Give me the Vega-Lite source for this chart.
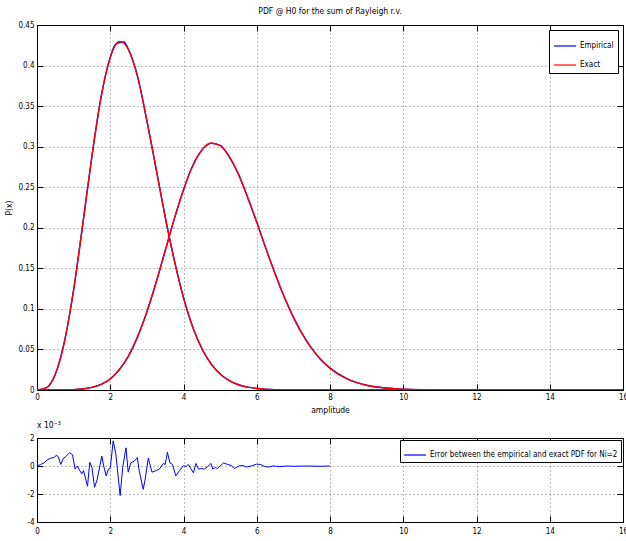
{
  "$schema": "https://vega.github.io/schema/vega-lite/v6.json",
  "background": "white",
  "padding": {"left": 4, "top": 6, "right": 0, "bottom": 0},
  "spacing": 6,
  "config": {
    "font": "DejaVu Sans Condensed, Liberation Sans, sans-serif",
    "view": {"stroke": "black", "strokeWidth": 1},
    "axis": {
      "domainColor": "black", "domainWidth": 1,
      "tickColor": "black", "tickSize": -6, "tickWidth": 1,
      "labelPadding": 9, "labelColor": "black", "labelFontSize": 8,
      "titleColor": "black", "titleFontSize": 8.5, "titleFontWeight": "normal",
      "gridColor": "#555555", "gridDash": [1, 3], "gridWidth": 0.8, "gridOpacity": 1
    },
    "title": {"fontSize": 8.5, "fontWeight": "normal", "color": "black"},
    "legend": {
      "strokeColor": "black", "fillColor": "white", "padding": 4,
      "symbolType": "stroke", "symbolSize": 480, "symbolStrokeWidth": 1.2,
      "labelFontSize": 8, "labelColor": "black", "rowPadding": 3, "labelOffset": 3, "labelLimit": 0
    }
  },
  "datasets": {
    "pdf": [
      {"x": 0, "p": 0, "series": "Empirical", "curve": "Ni=2"},
      {"x": 0.25, "p": 0.0027, "series": "Empirical", "curve": "Ni=2"},
      {"x": 0.5, "p": 0.0195, "series": "Empirical", "curve": "Ni=2"},
      {"x": 0.75, "p": 0.0600, "series": "Empirical", "curve": "Ni=2"},
      {"x": 1, "p": 0.1234, "series": "Empirical", "curve": "Ni=2"},
      {"x": 1.25, "p": 0.2046, "series": "Empirical", "curve": "Ni=2"},
      {"x": 1.5, "p": 0.2882, "series": "Empirical", "curve": "Ni=2"},
      {"x": 1.75, "p": 0.3616, "series": "Empirical", "curve": "Ni=2"},
      {"x": 2, "p": 0.4100, "series": "Empirical", "curve": "Ni=2"},
      {"x": 2.125, "p": 0.4250, "series": "Empirical", "curve": "Ni=2"},
      {"x": 2.25, "p": 0.4282, "series": "Empirical", "curve": "Ni=2"},
      {"x": 2.375, "p": 0.4290, "series": "Empirical", "curve": "Ni=2"},
      {"x": 2.5, "p": 0.4196, "series": "Empirical", "curve": "Ni=2"},
      {"x": 2.75, "p": 0.3861, "series": "Empirical", "curve": "Ni=2"},
      {"x": 3, "p": 0.3318, "series": "Empirical", "curve": "Ni=2"},
      {"x": 3.25, "p": 0.2733, "series": "Empirical", "curve": "Ni=2"},
      {"x": 3.5, "p": 0.2136, "series": "Empirical", "curve": "Ni=2"},
      {"x": 3.75, "p": 0.1601, "series": "Empirical", "curve": "Ni=2"},
      {"x": 4, "p": 0.1137, "series": "Empirical", "curve": "Ni=2"},
      {"x": 4.25, "p": 0.0778, "series": "Empirical", "curve": "Ni=2"},
      {"x": 4.5, "p": 0.0512, "series": "Empirical", "curve": "Ni=2"},
      {"x": 4.75, "p": 0.0325, "series": "Empirical", "curve": "Ni=2"},
      {"x": 5, "p": 0.0197, "series": "Empirical", "curve": "Ni=2"},
      {"x": 5.25, "p": 0.0116, "series": "Empirical", "curve": "Ni=2"},
      {"x": 5.5, "p": 0.0065, "series": "Empirical", "curve": "Ni=2"},
      {"x": 5.75, "p": 0.0035, "series": "Empirical", "curve": "Ni=2"},
      {"x": 6, "p": 0.0019, "series": "Empirical", "curve": "Ni=2"},
      {"x": 6.5, "p": 0.0005, "series": "Empirical", "curve": "Ni=2"},
      {"x": 7, "p": 0.0001, "series": "Empirical", "curve": "Ni=2"},
      {"x": 8, "p": 0, "series": "Empirical", "curve": "Ni=2"},
      {"x": 10, "p": 0, "series": "Empirical", "curve": "Ni=2"},
      {"x": 12, "p": 0, "series": "Empirical", "curve": "Ni=2"},
      {"x": 14, "p": 0, "series": "Empirical", "curve": "Ni=2"},
      {"x": 16, "p": 0, "series": "Empirical", "curve": "Ni=2"},

      {"x": 0, "p": 0, "series": "Empirical", "curve": "Ni=4"},
      {"x": 0.5, "p": 0.00004, "series": "Empirical", "curve": "Ni=4"},
      {"x": 1, "p": 0.0005, "series": "Empirical", "curve": "Ni=4"},
      {"x": 1.25, "p": 0.0013, "series": "Empirical", "curve": "Ni=4"},
      {"x": 1.5, "p": 0.0032, "series": "Empirical", "curve": "Ni=4"},
      {"x": 1.75, "p": 0.0070, "series": "Empirical", "curve": "Ni=4"},
      {"x": 2, "p": 0.0136, "series": "Empirical", "curve": "Ni=4"},
      {"x": 2.25, "p": 0.0252, "series": "Empirical", "curve": "Ni=4"},
      {"x": 2.5, "p": 0.0420, "series": "Empirical", "curve": "Ni=4"},
      {"x": 2.75, "p": 0.0661, "series": "Empirical", "curve": "Ni=4"},
      {"x": 3, "p": 0.0961, "series": "Empirical", "curve": "Ni=4"},
      {"x": 3.25, "p": 0.1325, "series": "Empirical", "curve": "Ni=4"},
      {"x": 3.5, "p": 0.1714, "series": "Empirical", "curve": "Ni=4"},
      {"x": 3.75, "p": 0.2113, "series": "Empirical", "curve": "Ni=4"},
      {"x": 4, "p": 0.2468, "series": "Empirical", "curve": "Ni=4"},
      {"x": 4.25, "p": 0.2765, "series": "Empirical", "curve": "Ni=4"},
      {"x": 4.5, "p": 0.2955, "series": "Empirical", "curve": "Ni=4"},
      {"x": 4.75, "p": 0.3040, "series": "Empirical", "curve": "Ni=4"},
      {"x": 5, "p": 0.3016, "series": "Empirical", "curve": "Ni=4"},
      {"x": 5.25, "p": 0.2874, "series": "Empirical", "curve": "Ni=4"},
      {"x": 5.5, "p": 0.2661, "series": "Empirical", "curve": "Ni=4"},
      {"x": 5.75, "p": 0.2377, "series": "Empirical", "curve": "Ni=4"},
      {"x": 6, "p": 0.2070, "series": "Empirical", "curve": "Ni=4"},
      {"x": 6.25, "p": 0.1743, "series": "Empirical", "curve": "Ni=4"},
      {"x": 6.5, "p": 0.1436, "series": "Empirical", "curve": "Ni=4"},
      {"x": 6.75, "p": 0.1147, "series": "Empirical", "curve": "Ni=4"},
      {"x": 7, "p": 0.0899, "series": "Empirical", "curve": "Ni=4"},
      {"x": 7.25, "p": 0.0685, "series": "Empirical", "curve": "Ni=4"},
      {"x": 7.5, "p": 0.0514, "series": "Empirical", "curve": "Ni=4"},
      {"x": 7.75, "p": 0.0374, "series": "Empirical", "curve": "Ni=4"},
      {"x": 8, "p": 0.0270, "series": "Empirical", "curve": "Ni=4"},
      {"x": 8.5, "p": 0.0131, "series": "Empirical", "curve": "Ni=4"},
      {"x": 9, "p": 0.0059, "series": "Empirical", "curve": "Ni=4"},
      {"x": 9.5, "p": 0.0025, "series": "Empirical", "curve": "Ni=4"},
      {"x": 10, "p": 0.0010, "series": "Empirical", "curve": "Ni=4"},
      {"x": 10.5, "p": 0.0004, "series": "Empirical", "curve": "Ni=4"},
      {"x": 11, "p": 0.0001, "series": "Empirical", "curve": "Ni=4"},
      {"x": 12, "p": 0, "series": "Empirical", "curve": "Ni=4"},
      {"x": 14, "p": 0, "series": "Empirical", "curve": "Ni=4"},
      {"x": 16, "p": 0, "series": "Empirical", "curve": "Ni=4"},

      {"x": 0, "p": 0, "series": "Exact", "curve": "Ni=2"},
      {"x": 0.25, "p": 0.0026, "series": "Exact", "curve": "Ni=2"},
      {"x": 0.5, "p": 0.0193, "series": "Exact", "curve": "Ni=2"},
      {"x": 0.75, "p": 0.0594, "series": "Exact", "curve": "Ni=2"},
      {"x": 1, "p": 0.1236, "series": "Exact", "curve": "Ni=2"},
      {"x": 1.25, "p": 0.2044, "series": "Exact", "curve": "Ni=2"},
      {"x": 1.5, "p": 0.2884, "series": "Exact", "curve": "Ni=2"},
      {"x": 1.75, "p": 0.3609, "series": "Exact", "curve": "Ni=2"},
      {"x": 2, "p": 0.4101, "series": "Exact", "curve": "Ni=2"},
      {"x": 2.125, "p": 0.4238, "series": "Exact", "curve": "Ni=2"},
      {"x": 2.25, "p": 0.4296, "series": "Exact", "curve": "Ni=2"},
      {"x": 2.375, "p": 0.4277, "series": "Exact", "curve": "Ni=2"},
      {"x": 2.5, "p": 0.4192, "series": "Exact", "curve": "Ni=2"},
      {"x": 2.75, "p": 0.3855, "series": "Exact", "curve": "Ni=2"},
      {"x": 3, "p": 0.3325, "series": "Exact", "curve": "Ni=2"},
      {"x": 3.25, "p": 0.2730, "series": "Exact", "curve": "Ni=2"},
      {"x": 3.5, "p": 0.2134, "series": "Exact", "curve": "Ni=2"},
      {"x": 3.75, "p": 0.1593, "series": "Exact", "curve": "Ni=2"},
      {"x": 4, "p": 0.1138, "series": "Exact", "curve": "Ni=2"},
      {"x": 4.25, "p": 0.0779, "series": "Exact", "curve": "Ni=2"},
      {"x": 4.5, "p": 0.0513, "series": "Exact", "curve": "Ni=2"},
      {"x": 4.75, "p": 0.0324, "series": "Exact", "curve": "Ni=2"},
      {"x": 5, "p": 0.0197, "series": "Exact", "curve": "Ni=2"},
      {"x": 5.25, "p": 0.0115, "series": "Exact", "curve": "Ni=2"},
      {"x": 5.5, "p": 0.0065, "series": "Exact", "curve": "Ni=2"},
      {"x": 5.75, "p": 0.0035, "series": "Exact", "curve": "Ni=2"},
      {"x": 6, "p": 0.0019, "series": "Exact", "curve": "Ni=2"},
      {"x": 6.5, "p": 0.0005, "series": "Exact", "curve": "Ni=2"},
      {"x": 7, "p": 0.0001, "series": "Exact", "curve": "Ni=2"},
      {"x": 8, "p": 0, "series": "Exact", "curve": "Ni=2"},
      {"x": 10, "p": 0, "series": "Exact", "curve": "Ni=2"},
      {"x": 12, "p": 0, "series": "Exact", "curve": "Ni=2"},
      {"x": 14, "p": 0, "series": "Exact", "curve": "Ni=2"},
      {"x": 16, "p": 0, "series": "Exact", "curve": "Ni=2"},

      {"x": 0, "p": 0, "series": "Exact", "curve": "Ni=4"},
      {"x": 0.5, "p": 0.00004, "series": "Exact", "curve": "Ni=4"},
      {"x": 1, "p": 0.0005, "series": "Exact", "curve": "Ni=4"},
      {"x": 1.25, "p": 0.0013, "series": "Exact", "curve": "Ni=4"},
      {"x": 1.5, "p": 0.0032, "series": "Exact", "curve": "Ni=4"},
      {"x": 1.75, "p": 0.0069, "series": "Exact", "curve": "Ni=4"},
      {"x": 2, "p": 0.0137, "series": "Exact", "curve": "Ni=4"},
      {"x": 2.25, "p": 0.0251, "series": "Exact", "curve": "Ni=4"},
      {"x": 2.5, "p": 0.0421, "series": "Exact", "curve": "Ni=4"},
      {"x": 2.75, "p": 0.0659, "series": "Exact", "curve": "Ni=4"},
      {"x": 3, "p": 0.0963, "series": "Exact", "curve": "Ni=4"},
      {"x": 3.25, "p": 0.1322, "series": "Exact", "curve": "Ni=4"},
      {"x": 3.5, "p": 0.1716, "series": "Exact", "curve": "Ni=4"},
      {"x": 3.75, "p": 0.2110, "series": "Exact", "curve": "Ni=4"},
      {"x": 4, "p": 0.2470, "series": "Exact", "curve": "Ni=4"},
      {"x": 4.25, "p": 0.2762, "series": "Exact", "curve": "Ni=4"},
      {"x": 4.5, "p": 0.2958, "series": "Exact", "curve": "Ni=4"},
      {"x": 4.75, "p": 0.3045, "series": "Exact", "curve": "Ni=4"},
      {"x": 5, "p": 0.3012, "series": "Exact", "curve": "Ni=4"},
      {"x": 5.25, "p": 0.2878, "series": "Exact", "curve": "Ni=4"},
      {"x": 5.5, "p": 0.2659, "series": "Exact", "curve": "Ni=4"},
      {"x": 5.75, "p": 0.2380, "series": "Exact", "curve": "Ni=4"},
      {"x": 6, "p": 0.2068, "series": "Exact", "curve": "Ni=4"},
      {"x": 6.25, "p": 0.1745, "series": "Exact", "curve": "Ni=4"},
      {"x": 6.5, "p": 0.1434, "series": "Exact", "curve": "Ni=4"},
      {"x": 6.75, "p": 0.1149, "series": "Exact", "curve": "Ni=4"},
      {"x": 7, "p": 0.0898, "series": "Exact", "curve": "Ni=4"},
      {"x": 7.25, "p": 0.0686, "series": "Exact", "curve": "Ni=4"},
      {"x": 7.5, "p": 0.0513, "series": "Exact", "curve": "Ni=4"},
      {"x": 7.75, "p": 0.0375, "series": "Exact", "curve": "Ni=4"},
      {"x": 8, "p": 0.0269, "series": "Exact", "curve": "Ni=4"},
      {"x": 8.5, "p": 0.0131, "series": "Exact", "curve": "Ni=4"},
      {"x": 9, "p": 0.0059, "series": "Exact", "curve": "Ni=4"},
      {"x": 9.5, "p": 0.0025, "series": "Exact", "curve": "Ni=4"},
      {"x": 10, "p": 0.0010, "series": "Exact", "curve": "Ni=4"},
      {"x": 10.5, "p": 0.0004, "series": "Exact", "curve": "Ni=4"},
      {"x": 11, "p": 0.0001, "series": "Exact", "curve": "Ni=4"},
      {"x": 12, "p": 0, "series": "Exact", "curve": "Ni=4"},
      {"x": 14, "p": 0, "series": "Exact", "curve": "Ni=4"},
      {"x": 16, "p": 0, "series": "Exact", "curve": "Ni=4"}
    ],
    "err": [
      {"x": 0, "e": 0}, {"x": 0.1, "e": 0.11}, {"x": 0.19, "e": 0.22}, {"x": 0.28, "e": 0.44},
      {"x": 0.37, "e": 0.56}, {"x": 0.46, "e": 0.6}, {"x": 0.53, "e": 0.76}, {"x": 0.58, "e": 0.67},
      {"x": 0.65, "e": 0.11}, {"x": 0.71, "e": 0.51}, {"x": 0.8, "e": 0.71}, {"x": 0.89, "e": 0.95},
      {"x": 0.97, "e": 0.8}, {"x": 1.04, "e": -0.22}, {"x": 1.1, "e": 0}, {"x": 1.17, "e": -0.33},
      {"x": 1.22, "e": -0.56}, {"x": 1.27, "e": -0.33}, {"x": 1.38, "e": -1.44}, {"x": 1.44, "e": 0.27},
      {"x": 1.5, "e": -0.11}, {"x": 1.57, "e": -1.51}, {"x": 1.64, "e": -1.0}, {"x": 1.77, "e": 0.71},
      {"x": 1.83, "e": -0.11}, {"x": 1.89, "e": -0.71}, {"x": 1.95, "e": -0.22}, {"x": 2.0, "e": -0.18},
      {"x": 2.08, "e": 1.8}, {"x": 2.15, "e": 0.89}, {"x": 2.27, "e": -2.11}, {"x": 2.34, "e": -0.11},
      {"x": 2.43, "e": 1.3}, {"x": 2.49, "e": -0.44}, {"x": 2.56, "e": 0.22}, {"x": 2.65, "e": 0.33},
      {"x": 2.74, "e": 0.6}, {"x": 2.79, "e": -0.33}, {"x": 2.9, "e": -1.67}, {"x": 2.95, "e": -1.0},
      {"x": 3.04, "e": 0.56}, {"x": 3.14, "e": -0.44}, {"x": 3.25, "e": -0.33}, {"x": 3.34, "e": -0.22},
      {"x": 3.45, "e": 0.18}, {"x": 3.5, "e": 0.11}, {"x": 3.56, "e": 0.98}, {"x": 3.63, "e": 0.22},
      {"x": 3.7, "e": 0.11}, {"x": 3.79, "e": -0.71}, {"x": 3.89, "e": -0.33}, {"x": 4.0, "e": 0.04},
      {"x": 4.07, "e": -0.04}, {"x": 4.13, "e": 0.11}, {"x": 4.2, "e": -0.18}, {"x": 4.27, "e": -0.49},
      {"x": 4.34, "e": 0.18}, {"x": 4.41, "e": -0.22}, {"x": 4.5, "e": -0.18}, {"x": 4.57, "e": -0.22},
      {"x": 4.66, "e": -0.04}, {"x": 4.75, "e": 0.18}, {"x": 4.8, "e": -0.22}, {"x": 4.87, "e": -0.11},
      {"x": 4.93, "e": -0.18}, {"x": 5.02, "e": 0.04}, {"x": 5.09, "e": 0.22}, {"x": 5.21, "e": 0.11},
      {"x": 5.3, "e": 0.04}, {"x": 5.39, "e": -0.18}, {"x": 5.51, "e": 0}, {"x": 5.62, "e": 0.04},
      {"x": 5.71, "e": -0.07}, {"x": 5.85, "e": 0}, {"x": 5.99, "e": 0.13}, {"x": 6.1, "e": 0.11},
      {"x": 6.22, "e": -0.04}, {"x": 6.34, "e": -0.07}, {"x": 6.44, "e": 0}, {"x": 6.63, "e": -0.04},
      {"x": 6.81, "e": 0}, {"x": 7.0, "e": -0.02}, {"x": 7.36, "e": 0}, {"x": 7.73, "e": -0.02},
      {"x": 8.0, "e": 0}
    ]
  },
  "vconcat": [
    {
      "width": 586,
      "height": 365,
      "title": {"text": "PDF @ H0 for the sum of Rayleigh r.v.", "offset": 6, "frame": "group"},
      "data": {"name": "pdf"},
      "layer": [
        {
          "mark": {"type": "line", "strokeWidth": 1.4, "clip": true, "interpolate": "monotone"},
          "encoding": {
            "x": {"field": "x", "type": "quantitative",
                  "scale": {"domain": [0, 16], "nice": false, "zero": false},
                  "axis": {"orient": "bottom", "values": [0, 2, 4, 6, 8, 10, 12, 14, 16], "title": "amplitude", "titlePadding": 4, "labelFlush": false}},
            "y": {"field": "p", "type": "quantitative",
                  "scale": {"domain": [0, 0.45], "nice": false},
                  "axis": {"orient": "left", "values": [0, 0.05, 0.1, 0.15, 0.2, 0.25, 0.3, 0.35, 0.4, 0.45], "labelExpr": "toString(datum.value)", "title": "P(x)", "titlePadding": 4}},
            "color": {"field": "series", "type": "nominal",
                      "scale": {"domain": ["Empirical", "Exact"], "range": ["#0000ff", "#ff0000"]},
                      "legend": {"title": null, "orient": "top-right", "offset": 5}},
            "detail": {"field": "curve"}
          }
        },
        {
          "mark": {"type": "line", "opacity": 0},
          "encoding": {
            "x": {"field": "x", "type": "quantitative",
                  "axis": {"orient": "top", "values": [0, 2, 4, 6, 8, 10, 12, 14, 16], "labels": false, "grid": false, "title": null}},
            "y": {"field": "p", "type": "quantitative",
                  "axis": {"orient": "right", "values": [0, 0.05, 0.1, 0.15, 0.2, 0.25, 0.3, 0.35, 0.4, 0.45], "labels": false, "grid": false, "title": null}},
            "detail": {"field": "curve"}
          }
        }
      ],
      "resolve": {"axis": {"x": "independent", "y": "independent"}}
    },
    {
      "width": 586,
      "height": 84,
      "title": {"text": "x 10⁻³", "anchor": "start", "offset": 5, "frame": "group"},
      "data": {"name": "err"},
      "transform": [{"calculate": "'Error between the empirical and exact PDF for Ni=2'", "as": "series"}],
      "layer": [
        {
          "mark": {"type": "line", "strokeWidth": 1},
          "encoding": {
            "x": {"field": "x", "type": "quantitative",
                  "scale": {"domain": [0, 16], "nice": false, "zero": false},
                  "axis": {"orient": "bottom", "values": [0, 2, 4, 6, 8, 10, 12, 14, 16], "title": null, "labelFlush": false, "labelPadding": 11}},
            "y": {"field": "e", "type": "quantitative",
                  "scale": {"domain": [-4, 2], "nice": false},
                  "axis": {"orient": "left", "values": [-4, -2, 0, 2], "labelExpr": "toString(datum.value)", "title": null}},
            "color": {"field": "series", "type": "nominal",
                      "scale": {"range": ["#0000ff"]},
                      "legend": {"title": null, "orient": "top-right", "offset": 2, "padding": 3}}
          }
        },
        {
          "mark": {"type": "line", "opacity": 0},
          "encoding": {
            "x": {"field": "x", "type": "quantitative",
                  "axis": {"orient": "top", "values": [0, 2, 4, 6, 8, 10, 12, 14, 16], "labels": false, "grid": false, "title": null}},
            "y": {"field": "e", "type": "quantitative",
                  "axis": {"orient": "right", "values": [-4, -2, 0, 2], "labels": false, "grid": false, "title": null}}
          }
        }
      ],
      "resolve": {"axis": {"x": "independent", "y": "independent"}}
    }
  ],
  "resolve": {"scale": {"color": "independent"}, "legend": {"color": "independent"}}
}
